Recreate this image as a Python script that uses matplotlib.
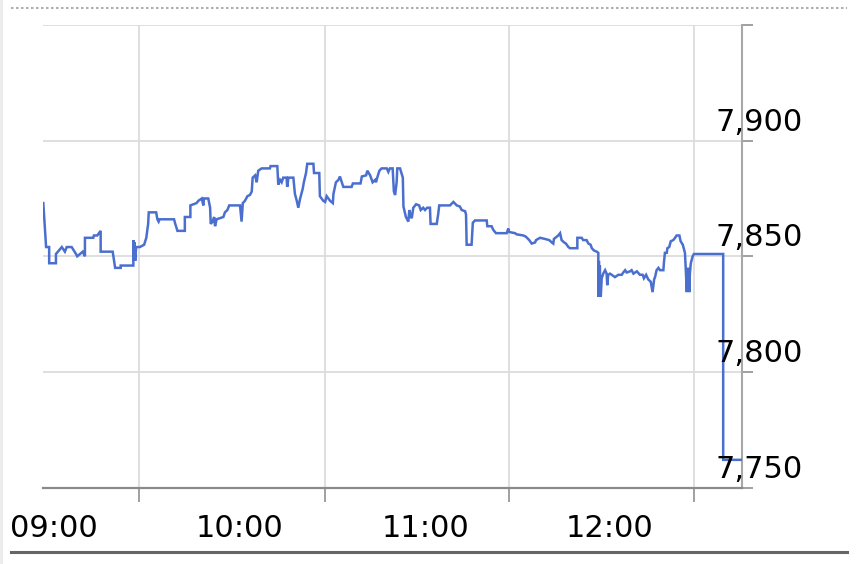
import matplotlib
matplotlib.use("Agg")
import matplotlib.pyplot as plt
from matplotlib.lines import Line2D
from matplotlib.patches import Rectangle

# ---- data (minutes on the chart's time axis, price) ----
times = [
    0.1, 1.0, 2.0, 2.0, 4.2, 4.2, 6.1, 7.1, 7.7, 9.3,
    10.7, 11.1, 12.0, 12.9, 13.6, 13.6, 16.3, 16.5, 17.6, 18.7,
    18.7, 22.6, 23.4, 25.2, 25.2, 29.3, 29.3, 29.5, 29.7, 29.9,
    30.2, 30.8, 31.4, 32.8, 33.5, 34.1, 34.3, 35.1, 36.7, 37.1,
    37.5, 37.8, 42.5, 42.9, 43.6, 46.0, 46.0, 47.8, 47.8, 49.8,
    50.4, 51.5, 52.0, 52.2, 53.6, 54.2, 54.4, 55.0, 55.5, 55.8,
    56.3, 58.5, 59.0, 59.8, 60.4, 63.9, 64.4, 64.8, 65.5, 66.3,
    67.1, 67.7, 68.0, 68.8, 69.3, 69.8, 70.9, 73.6, 73.8, 76.0,
    76.3, 76.9, 77.4, 77.9, 79.0, 79.2, 79.6, 81.2, 81.7, 82.3,
    82.8, 83.4, 84.2, 84.6, 85.3, 85.7, 87.7, 87.9, 89.0, 89.6,
    89.8, 90.9, 91.5, 92.0, 93.1, 94.0, 94.2, 95.0, 95.8, 96.3,
    96.9, 97.4, 100.1, 100.5, 103.0, 103.4, 104.8, 105.2, 106.1, 106.9,
    107.7, 108.0, 108.4, 109.1, 109.8, 111.5, 112.0, 112.5, 113.4, 113.8,
    114.2, 114.7, 114.9, 115.8, 116.7, 116.9, 117.7, 118.5, 118.8, 119.3,
    119.6, 120.1, 121.0, 122.0, 122.5, 123.3, 123.9, 124.6, 125.5, 125.7,
    127.7, 128.2, 128.5, 132.0, 133.1, 134.2, 135.2, 135.8, 136.9, 137.2,
    137.4, 139.0, 139.4, 140.1, 143.9, 144.1, 145.5, 146.0, 146.9, 150.4,
    150.9, 151.2, 153.1, 153.6, 155.8, 156.6, 157.7, 158.5, 159.6, 159.9,
    161.2, 162.8, 164.2, 165.0, 165.5, 165.7, 166.6, 167.1, 167.7, 168.2,
    169.0, 169.6, 170.4, 170.9, 173.3, 173.3, 174.7, 175.2, 176.3, 176.9,
    177.6, 178.0, 178.7, 179.6, 180.1, 180.1, 180.3, 180.4, 180.6, 180.8,
    180.9, 181.2, 181.7, 182.3, 182.8, 183.0, 183.3, 183.9, 185.5, 186.6,
    187.7, 188.2, 188.8, 189.3, 190.4, 190.9, 191.5, 192.6, 193.6, 194.5,
    194.9, 195.6, 196.3, 197.1, 197.7, 198.2, 198.5, 199.0, 199.6, 200.1,
    201.2, 201.4, 201.7, 202.3, 202.5, 203.1, 203.6, 204.4, 205.0, 205.5,
    206.4, 206.8, 207.5, 208.2, 208.5, 208.8, 209.0, 209.2, 209.4, 209.6,
    209.8, 210.1, 210.7, 211.1, 220.6, 220.6, 226.5,
]
prices = [
    7873, 7854, 7854, 7847, 7847, 7851, 7854, 7852, 7854, 7854,
    7851, 7850, 7851, 7852, 7850, 7858, 7858, 7859, 7859, 7861,
    7852, 7852, 7845, 7845, 7846, 7846, 7857, 7848, 7856, 7848,
    7854, 7854, 7854, 7855, 7858, 7864, 7869, 7869, 7869, 7866,
    7865, 7866, 7866, 7864, 7861, 7861, 7867, 7867, 7872, 7873,
    7874, 7875, 7872, 7875, 7875, 7871, 7864, 7865, 7867, 7863,
    7866, 7867, 7869, 7870, 7872, 7872, 7865, 7873, 7874, 7876,
    7876.5, 7878, 7884, 7885, 7882, 7887, 7888, 7888, 7889, 7889,
    7881, 7883, 7882, 7884, 7884, 7880, 7884, 7884, 7877, 7874,
    7871, 7875, 7879, 7882, 7886, 7890, 7890, 7886, 7886, 7886,
    7876, 7874, 7873.5, 7876, 7874, 7873, 7877, 7882, 7883, 7884.5,
    7882, 7880, 7880, 7881.5, 7881.5, 7884.5, 7885, 7887, 7885, 7882,
    7883, 7882, 7884, 7887, 7888, 7888, 7886.5, 7888, 7888, 7878,
    7876.5, 7882, 7888, 7888, 7884, 7871.5, 7867, 7865, 7870, 7867,
    7866.5, 7871, 7872.5, 7872, 7870, 7871, 7870, 7871, 7871, 7864,
    7864, 7868.5, 7872, 7872, 7873.5, 7872, 7871.5, 7870, 7869.5, 7868,
    7855, 7855, 7864.5, 7865.5, 7865.5, 7863, 7863, 7861.5, 7860, 7860,
    7862, 7860.5, 7860, 7859.5, 7859, 7858.5, 7857, 7855.5, 7856, 7857,
    7858, 7857.5, 7857, 7856, 7855.5, 7857.5, 7858.5, 7859, 7860, 7857,
    7856, 7855.5, 7854, 7853.5, 7853.5, 7858, 7858, 7857, 7857, 7855.5,
    7855, 7853.5, 7852.5, 7852, 7851.5, 7832.5, 7848, 7834, 7846, 7833,
    7832.5, 7840.5, 7842.5, 7844, 7842.5, 7837.5, 7842, 7842.5, 7841, 7842,
    7842, 7843, 7844, 7843, 7843.5, 7844, 7842.5, 7843.5, 7842, 7842,
    7840.5, 7842, 7840, 7839, 7834.5, 7840, 7841, 7844, 7845, 7844,
    7844, 7847.5, 7851.5, 7851.5, 7853.5, 7854, 7856.5, 7857, 7858, 7859,
    7859, 7856.5, 7855, 7851.5, 7843.5, 7834.5, 7845, 7835, 7845, 7834.5,
    7842.5, 7847, 7850, 7851, 7851, 7762, 7762,
]

y_ticks = [7750, 7800, 7850, 7900, 7950]
y_labels = ["7,750", "7,800", "7,850", "7,900"]
x_grid_ticks = [31.2, 91.5, 151.0, 211.2]
x_label_pos = [3.6, 63.9, 124.2, 183.7]
x_labels = ["09:00", "10:00", "11:00", "12:00"]

# ---- figure ----
W, H = 857, 564
fig = plt.figure(figsize=(W / 100, H / 100), dpi=100)
fig.patch.set_facecolor("white")

ax_l, ax_r, ax_t, ax_b = 43, 742, 25, 487.6
ax = fig.add_axes([ax_l / W, (H - ax_b) / H, (ax_r - ax_l) / W, (ax_b - ax_t) / H])
ax.set_facecolor("white")

ax.plot(times, prices, color="#4b6fcf", lw=1.8, solid_joinstyle="miter", zorder=3)

ax.set_xlim(0, (ax_r - ax_l) / 3.08333)
ax.set_ylim(7750, 7950)

ax.set_yticks(y_ticks)
ax.set_xticks(x_grid_ticks)
ax.yaxis.tick_right()
ax.tick_params(axis="y", which="major", direction="out", length=8, width=1.4,
               color="#a0a0a0", labelright=False, labelleft=False)
ax.tick_params(axis="x", which="major", direction="out", length=10, width=1.4,
               color="#a0a0a0", labelbottom=False)
ax.grid(True, color="#dcdcdc", lw=1.3, zorder=0)

for s in ("left", "top"):
    ax.spines[s].set_visible(False)
ax.spines["right"].set_color("#a8a8a8")
ax.spines["right"].set_linewidth(1.5)
ax.spines["bottom"].set_color("#8a8a8a")
ax.spines["bottom"].set_linewidth(1.6)

# y labels: left-aligned, sitting just above their gridlines, near the right spine
ylab_x = (715 - ax_l) / (ax_r - ax_l)
for v, lab in zip(y_ticks, y_labels):
    ax.annotate(lab, xy=(ylab_x, v), xycoords=("axes fraction", "data"),
                xytext=(0, 10 * 0.72), textcoords="offset points",
                ha="left", va="baseline", fontsize=22, color="black",
                family="DejaVu Sans", annotation_clip=False, zorder=4)

# x labels
for p, lab in zip(x_label_pos, x_labels):
    ax.annotate(lab, xy=(p, 0), xycoords=("data", "axes fraction"),
                xytext=(0, -49.5 * 0.72), textcoords="offset points",
                ha="center", va="baseline", fontsize=22, color="black",
                family="DejaVu Sans", annotation_clip=False)

# decorations of the surrounding widget
fig.add_artist(Line2D([11 / W, 847 / W], [1 - 8.2 / H] * 2, transform=fig.transFigure,
                      color="#b0b0b0", lw=1.5, linestyle=(0, (1.2, 1.2))))
fig.add_artist(Line2D([11 / W, 847 / W], [1 - 551.7 / H] * 2, transform=fig.transFigure,
                      color="#666666", lw=2.2))
fig.add_artist(Rectangle((0, 0), 3 / W, 1, transform=fig.transFigure,
                         facecolor="#ececec", edgecolor="none"))

fig.savefig("out.png", dpi=100)
